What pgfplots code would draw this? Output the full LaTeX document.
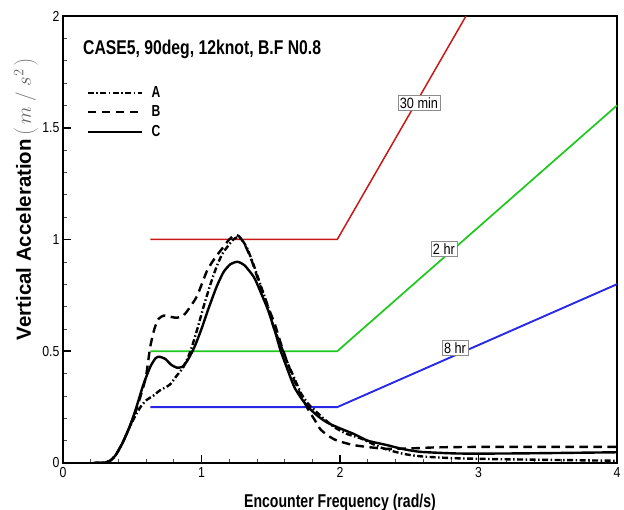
\documentclass[border=0pt]{standalone}
\usepackage{pgfplots}
\pgfplotsset{compat=1.18}
\usepackage{fontspec}
\setmainfont{Liberation Sans}
\newfontfamily\narrowfont[FakeStretch=0.85]{Liberation Sans}
\newfontfamily\condfont[FakeStretch=0.76]{Liberation Sans}
\newfontfamily\titlefont[FakeStretch=0.79]{Liberation Sans}
\definecolor{limred}{RGB}{200,25,25}
\definecolor{limgreen}{RGB}{30,200,30}
\definecolor{limblue}{RGB}{40,40,230}

\pgfplotstableread{
x y
0.22 0
0.30 0.002
0.34 0.01
0.38 0.035
0.43 0.09
0.48 0.16
0.53 0.22
0.57 0.26
0.61 0.285
0.65 0.30
0.70 0.325
0.77 0.35
0.82 0.39
0.87 0.43
0.92 0.50
0.97 0.60
1.02 0.71
1.07 0.81
1.11 0.88
1.15 0.935
1.19 0.97
1.23 1.00
1.26 1.01
1.29 1.00
1.33 0.96
1.38 0.88
1.43 0.79
1.48 0.70
1.52 0.61
1.57 0.53
1.62 0.45
1.67 0.38
1.72 0.31
1.77 0.265
1.81 0.24
1.88 0.20
1.96 0.16
2.05 0.13
2.15 0.11
2.30 0.068
2.45 0.042
2.58 0.03
2.80 0.022
3.06 0.018
3.50 0.014
4.00 0.010
}\dataA

\pgfplotstableread{
x y
0.22 0
0.30 0.002
0.34 0.01
0.38 0.035
0.43 0.09
0.48 0.16
0.53 0.24
0.57 0.32
0.60 0.39
0.63 0.52
0.66 0.60
0.69 0.645
0.73 0.66
0.77 0.655
0.82 0.65
0.87 0.66
0.92 0.70
0.97 0.75
1.04 0.86
1.10 0.92
1.15 0.96
1.20 1.00
1.24 1.02
1.27 1.015
1.31 0.98
1.36 0.91
1.42 0.80
1.48 0.70
1.53 0.62
1.57 0.54
1.62 0.45
1.67 0.37
1.72 0.30
1.77 0.24
1.82 0.19
1.86 0.15
1.92 0.12
1.98 0.10
2.10 0.08
2.25 0.068
2.35 0.063
2.50 0.065
2.70 0.070
3.00 0.072
3.50 0.072
4.00 0.072
}\dataB

\pgfplotstableread{
x y
0.22 0
0.30 0.002
0.34 0.01
0.38 0.035
0.43 0.09
0.48 0.16
0.53 0.25
0.58 0.35
0.63 0.43
0.67 0.47
0.70 0.475
0.74 0.465
0.78 0.44
0.82 0.427
0.86 0.43
0.90 0.46
0.95 0.52
1.00 0.60
1.05 0.69
1.11 0.79
1.16 0.855
1.21 0.89
1.26 0.90
1.31 0.885
1.38 0.83
1.43 0.76
1.48 0.685
1.53 0.59
1.57 0.505
1.62 0.42
1.67 0.34
1.72 0.29
1.77 0.25
1.84 0.21
1.91 0.18
2.00 0.155
2.10 0.13
2.20 0.10
2.34 0.08
2.45 0.063
2.58 0.05
2.82 0.043
3.00 0.042
3.30 0.043
3.60 0.045
4.00 0.048
}\dataC

\begin{document}
\begin{tikzpicture}
\begin{axis}[
  scale only axis,
  width=554bp, height=447bp,
  xmin=0, xmax=4, ymin=0, ymax=2,
  xtick={0,1,2,3,4}, ytick={0,0.5,1,1.5,2},
  yticklabels={0,0.5,1,1.5,2},
  minor x tick num=4, minor y tick num=4,
  tick pos=left, tick align=inside,
  major tick length=8bp, minor tick length=4.5bp,
  every major tick/.append style={line width=1.6bp, black},
  every minor tick/.append style={line width=0.6bp, black!70},
  axis line style={line width=1.6bp},
  /pgf/number format/assume math mode=true,
  ticklabel style={font=\narrowfont\fontsize{14.5}{16}\selectfont},
  xticklabel style={yshift=-1bp},
  xlabel={\condfont\bfseries\fontsize{18.6}{22}\selectfont Encounter Frequency (rad/s)},
  xlabel style={at={(axis description cs:0.5,0)}, anchor=base, yshift=-44bp},
  ylabel={\bfseries\fontsize{20.5}{24}\selectfont Vertical Acceleration\,\textcolor{black!60}{\fontsize{22}{26}\selectfont$\left(\,m\;/\;s^{2}\,\right)$}},
  ylabel style={at={(axis description cs:-0.0578,0.59)}, anchor=base},
  legend style={at={(axis cs:0.17,1.692)}, anchor=north west, draw=none, fill=none,
    font=\condfont\bfseries\fontsize{16}{18}\selectfont, row sep=4bp, column sep=7bp, inner sep=0pt,
    nodes={inner sep=1.5bp}},
  legend cell align=left,
  legend image code/.code={\draw[#1] (0bp,0bp) -- (54bp,0bp);},
]
\addplot[limred, line width=1.5bp, forget plot] coordinates {(0.63,1) (1.98,1) (2.91,2)};
\addplot[limgreen, line width=1.7bp, forget plot] coordinates {(0.63,0.5) (1.98,0.5) (4,1.6)};
\addplot[limblue, line width=1.9bp, forget plot] coordinates {(0.63,0.25) (1.98,0.25) (4,0.8)};

\addplot[black, line width=2.4bp, smooth, tension=0.4, dash pattern=on 6bp off 2.5bp on 1.5bp off 2.5bp] table[x=x,y=y] {\dataA};
\addlegendentry{A}
\addplot[black, line width=2.4bp, smooth, tension=0.4, dash pattern=on 8.5bp off 5.5bp] table[x=x,y=y] {\dataB};
\addlegendentry{B}
\addplot[black, line width=2.4bp, smooth, tension=0.4] table[x=x,y=y] {\dataC};
\addlegendentry{C}

\node[anchor=base west, font=\titlefont\bfseries\fontsize{20}{24}\selectfont, inner sep=0pt] at (axis cs:0.144,1.826) {CASE5, 90deg, 12knot, B.F N0.8};
\tikzset{lbl/.style={fill=white, draw=black!45, line width=0.6bp, inner sep=2bp, font=\narrowfont\fontsize{15}{17}\selectfont}}
\node[lbl] at (axis cs:2.57,1.61) {30 min};
\node[lbl] at (axis cs:2.75,0.957) {2 hr};
\node[lbl] at (axis cs:2.83,0.515) {8 hr};
\end{axis}
\pgfresetboundingbox
\path ([shift={(-63bp,-47bp)}]current axis.south west) rectangle ([shift={(7bp,16bp)}]current axis.north east);
\end{tikzpicture}
\end{document}
